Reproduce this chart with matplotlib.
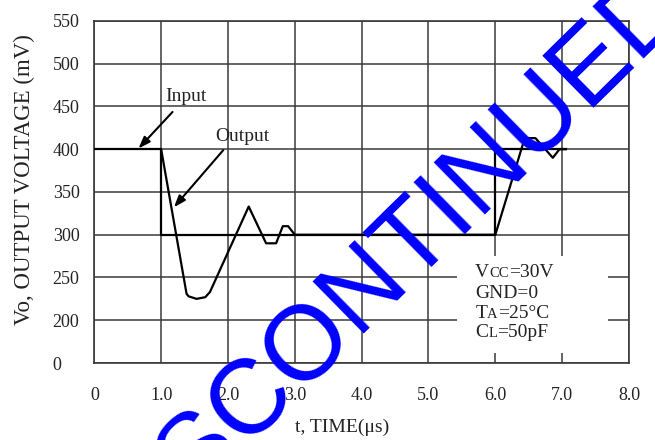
import matplotlib
matplotlib.use('Agg')
import matplotlib.pyplot as plt
from matplotlib.patches import Rectangle

# waveform data, mV (the "0" tick stands at 150: broken axis)
input_t = [0.0, 1.0, 1.0, 6.0, 6.0, 7.05]
input_v = [400, 400, 300, 300, 400, 400]

output_t = [1.0, 1.38, 1.41, 1.53, 1.66, 1.73, 2.31, 2.57, 2.72, 2.82, 2.90, 3.0,
            6.0, 6.44, 6.60, 6.86, 6.96, 7.05]
output_v = [400, 231, 228, 225, 227, 233, 333, 290, 290, 310, 310, 300,
            300, 413, 413, 390, 400, 400]

x_ticks = [0, 1, 2, 3, 4, 5, 6, 7, 8]
x_labels = ['0', '1.0', '2.0', '3.0', '4.0', '5.0', '6.0', '7.0', '8.0']
y_ticks = [150, 200, 250, 300, 350, 400, 450, 500, 550]
y_labels = ['0', '200', '250', '300', '350', '400', '450', '500', '550']

conditions = [
    [('V', 14), ('CC', 10.5), ('=30V', 14)],
    [('GND=0', 14)],
    [('T', 14), ('A', 10.5), ('=25°C', 14)],
    [('C', 14), ('L', 10.5), ('=50pF', 14)],
]
cond_y = [256.8, 231.9, 208.5, 186.6]

SERIF = 'Liberation Serif'
TXT = '#222222'
GRID = '#3a3a3a'

fig = plt.figure(figsize=(6.55, 4.4), dpi=100)
ax = fig.add_axes([0.144, 0.175, 0.8163, 0.7773])

ax.set_xlim(0, 8)
ax.set_ylim(150, 550)
ax.set_xticks(x_ticks)
ax.set_xticklabels(x_labels, fontfamily=SERIF, fontsize=13, color=TXT)
ax.set_yticks(y_ticks)
ax.set_yticklabels(y_labels, fontfamily=SERIF, fontsize=13, color=TXT)
ax.tick_params(axis='both', length=0)
ax.tick_params(axis='x', pad=17)
ax.tick_params(axis='y', pad=30)
for lab in ax.get_yticklabels():
    lab.set_horizontalalignment('left')

ax.set_axisbelow(True)
ax.grid(True, color=GRID, lw=1.1)
for sp in ax.spines.values():
    sp.set_color(GRID)
    sp.set_linewidth(1.2)

# white box behind the test conditions
ax.add_patch(Rectangle((5.42, 161.7), 2.26, 113.4, facecolor='white',
                       edgecolor='none', zorder=1))

ax.plot(input_t, input_v, color='black', lw=1.6, zorder=3)
ax.plot(output_t, output_v, color='black', lw=1.6, zorder=3)

# labels with arrows
ax.text(1.37, 462, 'Input', fontfamily=SERIF, fontsize=14, color=TXT,
        ha='center', va='center')
ax.annotate('', xy=(0.66, 400.8), xytext=(1.17, 443.6),
            arrowprops=dict(arrowstyle='-|>,head_length=0.7,head_width=0.25',
                            color='black', lw=1.5, shrinkA=0, shrinkB=0))
ax.text(2.21, 415, 'Output', fontfamily=SERIF, fontsize=14, color=TXT,
        ha='center', va='center')
ax.annotate('', xy=(1.19, 332), xytext=(1.93, 399),
            arrowprops=dict(arrowstyle='-|>,head_length=0.7,head_width=0.25',
                            color='black', lw=1.5, shrinkA=0, shrinkB=0))

# test conditions, small caps pieces chained on one baseline
for parts, yv in zip(conditions, cond_y):
    prev = None
    for s, fs in parts:
        if prev is None:
            prev = ax.text(5.70, yv - 6, s, fontfamily=SERIF, fontsize=fs,
                           color=TXT, ha='left', va='baseline', zorder=4)
        else:
            prev = ax.annotate(s, xy=(1, yv - 6), xycoords=(prev, 'data'),
                               fontfamily=SERIF, fontsize=fs, color=TXT,
                               ha='left', va='baseline', zorder=4)

ax.set_xlabel('t, TIME(μs)', fontfamily=SERIF, fontsize=14, color=TXT)
ax.xaxis.set_label_coords(0.463, -0.162)
ax.set_ylabel('Vo, OUTPUT VOLTAGE (mV)', fontfamily=SERIF, fontsize=16.5, color=TXT)
ax.yaxis.set_label_coords(-0.111, 0.535)

# watermark
fig.text(385 / 655, 1 - 266 / 440, 'DISCONTINUED', fontfamily='Liberation Sans',
         fontsize=76, color='#0000ff', rotation=44.5, rotation_mode='anchor',
         ha='center', va='center', zorder=10)

fig.savefig('out.png', dpi=100)
